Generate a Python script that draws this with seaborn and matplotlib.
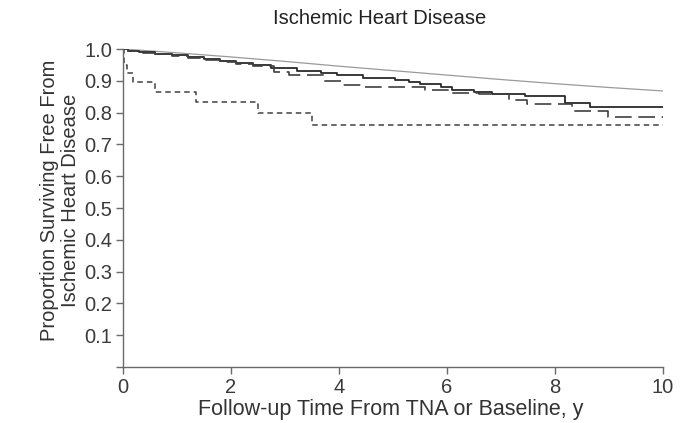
import matplotlib
matplotlib.use("Agg")
import matplotlib.pyplot as plt
import seaborn as sns
import pandas as pd

# ---- data ----
expected_t = [0, 1, 2, 3, 4, 5, 6, 7, 8, 9, 10]
expected_s = [1.0, 0.988, 0.975, 0.961, 0.946, 0.932, 0.918, 0.904, 0.891, 0.879, 0.868]

solid_t = [0, 0.1, 0.3, 0.6, 0.9, 1.2, 1.5, 1.8, 2.1, 2.4, 2.74, 3.23, 3.66, 3.97,
           4.45, 5.03, 5.29, 5.5, 5.88, 6.1, 6.5, 6.84, 7.45, 8.19, 8.65, 10]
solid_s = [1.0, 0.995, 0.99, 0.985, 0.98, 0.975, 0.97, 0.963, 0.957, 0.95, 0.94, 0.932,
           0.926, 0.918, 0.91, 0.902, 0.896, 0.889, 0.879, 0.87, 0.865, 0.86, 0.853,
           0.831, 0.818, 0.818]

longdash_t = [0, 0.1, 0.3, 0.6, 0.9, 1.2, 1.5, 1.8, 2.1, 2.4, 2.8, 3.07, 3.72, 4.03,
              4.4, 5.6, 6.03, 6.6, 7.14, 7.48, 8.32, 8.98, 10]
longdash_s = [1.0, 0.995, 0.988, 0.983, 0.978, 0.972, 0.966, 0.96, 0.954, 0.947, 0.928,
              0.918, 0.899, 0.888, 0.88, 0.87, 0.863, 0.86, 0.84, 0.826, 0.806, 0.787, 0.787]

shortdash_t = [0, 0.02, 0.07, 0.18, 0.6, 1.35, 2.5, 3.5, 10]
shortdash_s = [1.0, 0.95, 0.925, 0.896, 0.865, 0.834, 0.80, 0.761, 0.761]

x_ticks = [0, 2, 4, 6, 8, 10]
y_ticks = [0, 0.1, 0.2, 0.3, 0.4, 0.5, 0.6, 0.7, 0.8, 0.9, 1.0]
y_tick_labels = ["", "0.1", "0.2", "0.3", "0.4", "0.5", "0.6", "0.7", "0.8", "0.9", "1.0"]

title = "Ischemic Heart Disease"
x_label = "Follow-up Time From TNA or Baseline, y"
y_label = "Proportion Surviving Free From\nIschemic Heart Disease"

# ---- plotting ----
sns.set_theme(style="ticks")
plt.rcParams["font.family"] = ["Liberation Sans", "DejaVu Sans"]

fig = plt.figure(figsize=(6.8, 4.23), dpi=100)
ax = fig.add_axes([123 / 680, 56 / 423, 540 / 680, 318 / 423])

dark = "#2a2a2a"
sns.lineplot(x=expected_t, y=expected_s, ax=ax, color="#9a9a9a", linewidth=0.9,
             estimator=None, sort=False)
sns.lineplot(x=solid_t, y=solid_s, ax=ax, color=dark, linewidth=1.3,
             estimator=None, sort=False, drawstyle="steps-post")
sns.lineplot(x=longdash_t, y=longdash_s, ax=ax, color="#404040", linewidth=1.2,
             estimator=None, sort=False, drawstyle="steps-post",
             linestyle=(0, (10.0, 4.0)))
sns.lineplot(x=shortdash_t, y=shortdash_s, ax=ax, color="#404040", linewidth=1.1,
             estimator=None, sort=False, drawstyle="steps-post",
             linestyle=(0, (3.6, 2.6)))

ax.set_xlim(0, 10)
ax.set_ylim(0, 1.0)
ax.set_xticks(x_ticks)
ax.set_xticklabels([str(v) for v in x_ticks])
ax.set_yticks(y_ticks)
ax.set_yticklabels(y_tick_labels)

for s in ["top", "right"]:
    ax.spines[s].set_visible(False)
for s in ["left", "bottom"]:
    ax.spines[s].set_color("#6a6a6a")
    ax.spines[s].set_linewidth(1.0)

ax.tick_params(axis="both", length=5, width=1.0, color="#6a6a6a",
               labelsize=14.5, labelcolor="#3a3a3a", pad=3)
ax.set_xlabel("")
ax.set_ylabel("")

fig.text(380 / 680, 1 - 18 / 423, title, ha="center", va="center",
         fontsize=14.5, color="#222222")
fig.text(391 / 680, 1 - 409 / 423, x_label, ha="center", va="center",
         fontsize=15.5, color="#333333")
fig.text(60 / 680, 1 - 200 / 423, y_label, ha="center", va="center",
         rotation=90, multialignment="center", fontsize=14.5, color="#333333",
         linespacing=1.12)

fig.savefig("out.png", dpi=100, facecolor="white")
